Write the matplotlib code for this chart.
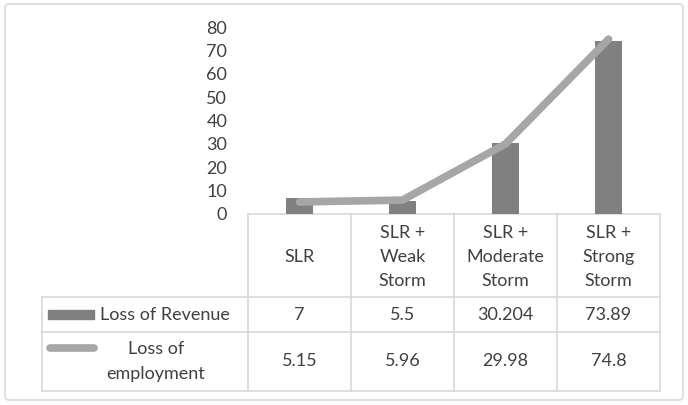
import matplotlib.pyplot as plt
from matplotlib.patches import Rectangle, FancyBboxPatch

plt.rcParams['font.family'] = ['Lato', 'DejaVu Sans']

categories = ['SLR', 'SLR +\nWeak\nStorm', 'SLR +\nModerate\nStorm', 'SLR +\nStrong\nStorm']
revenue = [7, 5.5, 30.204, 73.89]
employment = [5.15, 5.96, 29.98, 74.8]
series_names = ['Loss of Revenue', 'Loss of\nemployment']
yticks = [0, 10, 20, 30, 40, 50, 60, 70, 80]

W, H = 688, 405
bar_col = '#808080'
line_col = '#a6a6a6'
grid_col = '#d9d9d9'
txt_col = '#404040'
fs = 13

fig = plt.figure(figsize=(W / 100, H / 100), dpi=100)

# plot area (pixel coords -> figure fraction)
x0, x1 = 248, 660
y_top, y_zero = 27, 214
ax = fig.add_axes([x0 / W, 1 - y_zero / H, (x1 - x0) / W, (y_zero - y_top) / H])
xs = list(range(len(categories)))
ax.bar(xs, revenue, width=0.27, color=bar_col, zorder=2)
ax.plot(xs, employment, color=line_col, lw=5.5, solid_capstyle='round', zorder=3)
ax.set_xlim(-0.5, len(categories) - 0.5)
ax.set_ylim(0, 80)
ax.set_yticks(yticks)
ax.tick_params(axis='y', length=0, pad=15, labelsize=fs, labelcolor=txt_col)
ax.set_xticks([])
for s in ax.spines.values():
    s.set_visible(False)
ax.patch.set_alpha(0)

# overlay in pixel coords for the data table
ov = fig.add_axes([0, 0, 1, 1], zorder=-1)
ov.set_xlim(0, W)
ov.set_ylim(H, 0)
ov.axis('off')

ov.add_patch(FancyBboxPatch((5, 4), 678, 396, boxstyle='round,pad=0,rounding_size=4',
                            fill=False, ec=grid_col, lw=1.2))

col_edges = [248, 351, 454, 557, 660]
row_edges = [214, 297, 332, 391]
lab_left = 42
lc = dict(color=grid_col, lw=1.2)
ov.plot([col_edges[0], col_edges[-1]], [row_edges[0]] * 2, **lc)
for y in row_edges[1:]:
    ov.plot([lab_left, col_edges[-1]], [y, y], **lc)
for x in col_edges:
    ov.plot([x, x], [row_edges[0], row_edges[-1]], **lc)
ov.plot([lab_left, lab_left], [row_edges[1], row_edges[-1]], **lc)

for i, cat in enumerate(categories):
    cx = (col_edges[i] + col_edges[i + 1]) / 2
    ov.text(cx, (row_edges[0] + row_edges[1]) / 2 + 1.5, cat, ha='center', va='center',
            fontsize=fs, color=txt_col, linespacing=1.65)
    ov.text(cx, (row_edges[1] + row_edges[2]) / 2, f'{revenue[i]:g}', ha='center',
            va='center', fontsize=fs, color=txt_col)
    ov.text(cx, (row_edges[2] + row_edges[3]) / 2, f'{employment[i]:g}', ha='center',
            va='center', fontsize=fs, color=txt_col)

# legend keys + row labels
ov.add_patch(Rectangle((48, 310), 46, 9, color=bar_col))
ov.text(100, (row_edges[1] + row_edges[2]) / 2, series_names[0], ha='left', va='center',
        fontsize=fs, color=txt_col)
ov.plot([50, 94], [348, 348], color=line_col, lw=5.5, solid_capstyle='round')
ov.text(156, (row_edges[2] + row_edges[3]) / 2, series_names[1], ha='center', va='center',
        fontsize=fs, color=txt_col, linespacing=1.65)

fig.savefig('out.png', dpi=100)
